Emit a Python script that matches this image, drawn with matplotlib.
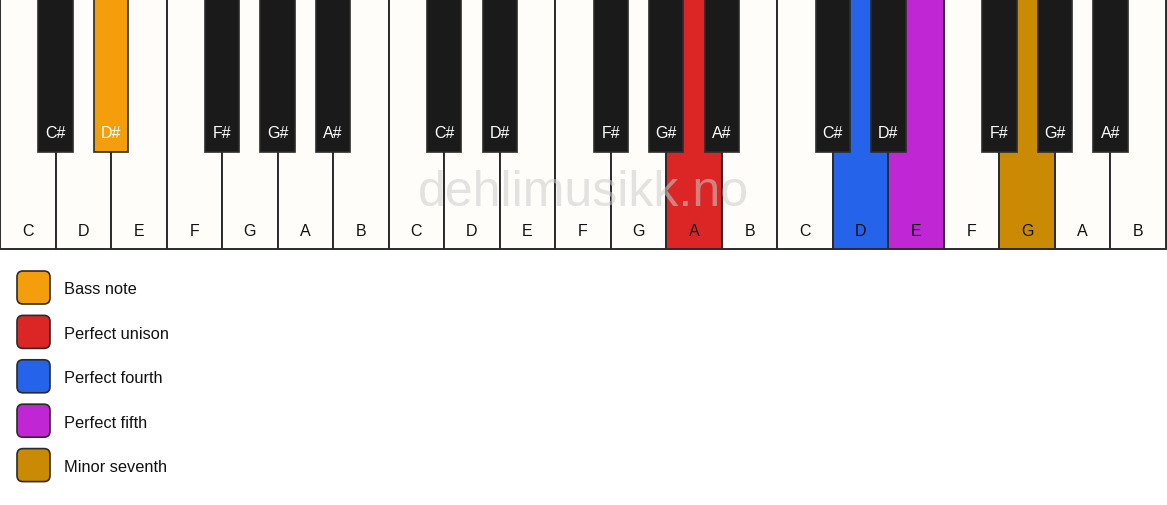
import matplotlib
matplotlib.use("Agg")
import matplotlib.pyplot as plt
from matplotlib.patches import Rectangle, FancyBboxPatch

plt.rcParams['font.family'] = ['Liberation Sans', 'DejaVu Sans']

# Keyboard data: three octaves starting on C.
white_notes = ['C', 'D', 'E', 'F', 'G', 'A', 'B'] * 3
# black keys sit on the boundary after these white-key indices (per octave)
black_notes = ['C#', 'D#', 'F#', 'G#', 'A#']
black_after = [1, 2, 4, 5, 6]
n_octaves = 3

# Highlighted keys: (note, octave) -> colour
orange = '#F59E0B'
red = '#DC2626'
blue = '#2563EB'
purple = '#C026D3'
gold = '#CA8A04'
highlights = {
    ('D#', 0): orange,
    ('A', 1): red,
    ('D', 2): blue,
    ('E', 2): purple,
    ('G', 2): gold,
}

legend_labels = ['Bass note', 'Perfect unison', 'Perfect fourth',
                 'Perfect fifth', 'Minor seventh']
legend_colors = [orange, red, blue, purple, gold]

W, H = 1167, 506
fig = plt.figure(figsize=(W / 100, H / 100), dpi=100)
ax = fig.add_axes([0, 0, 1, 1])
ax.set_xlim(0, W)
ax.set_ylim(H, 0)
ax.axis('off')

key_w = (W - 1) / len(white_notes)
key_h = 250
black_w = key_w * 0.62
black_h = 153
edge = '#2b2b2b'

# White keys
for i, note in enumerate(white_notes):
    octave = i // 7
    face = highlights.get((note, octave), '#FFFDF9')
    ax.add_patch(Rectangle((i * key_w, 0), key_w, key_h, facecolor=face,
                           edgecolor=edge, linewidth=1.4, zorder=1))
    ax.text(i * key_w + key_w / 2, 231, note, ha='center', va='center',
            fontsize=11.5, color='#111111', zorder=5)

# Watermark
ax.text(W / 2, 193, 'dehlimusikk.no', ha='center', va='center',
        fontsize=36, color='#cccccc', alpha=0.55, zorder=2)

# Black keys
for octave in range(n_octaves):
    for note, after in zip(black_notes, black_after):
        cx = (octave * 7 + after) * key_w
        face = highlights.get((note, octave), '#1a1a1a')
        ax.add_patch(Rectangle((cx - black_w / 2, 0), black_w, black_h,
                               facecolor=face, edgecolor=edge, linewidth=1.2,
                               zorder=3))
        ax.text(cx, 133, note, ha='center', va='center', fontsize=11.5,
                color='white', zorder=5)

# Legend
for j, (label, color) in enumerate(zip(legend_labels, legend_colors)):
    y0 = 272 + j * 44.4
    ax.add_patch(FancyBboxPatch((17, y0), 33, 33,
                                boxstyle='round,pad=0,rounding_size=6',
                                facecolor=color, edgecolor=edge,
                                linewidth=1.2, zorder=3))
    ax.text(64, y0 + 18, label, ha='left', va='center', fontsize=11.8,
            color='#111111')

fig.savefig('out.png', dpi=100)
